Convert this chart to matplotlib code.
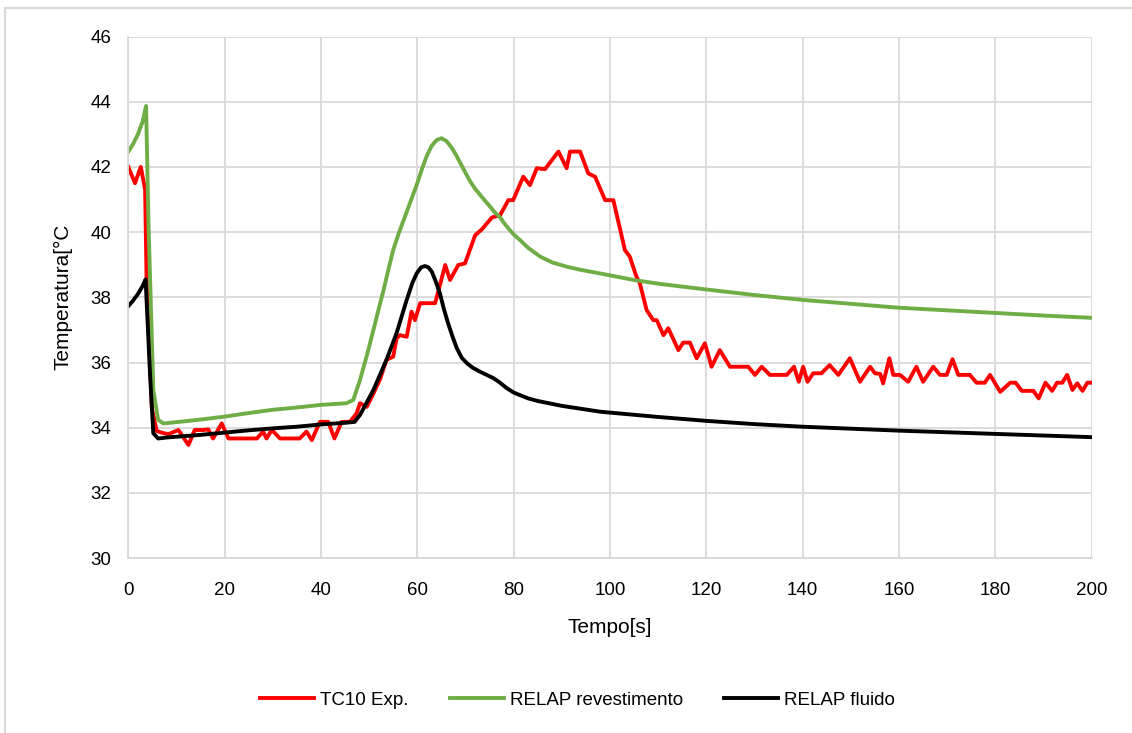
import matplotlib
matplotlib.use("Agg")
import matplotlib.pyplot as plt
from matplotlib.lines import Line2D

plt.rcParams['font.family'] = ['Liberation Sans', 'DejaVu Sans']

# TC10 experimental
t_exp = [0, 1.4, 2.6, 3.5, 3.8, 4.9, 5.9, 6.9, 8.3, 10.4, 12.5, 13.8, 15.6, 16.6, 17.6,
         19.4, 20.8, 26.7, 28.0, 28.7, 29.8, 31.5, 35.6, 37.0, 38.1, 39.8, 41.5, 42.8,
         44.3, 46.0, 47.4, 48.1, 49.5, 50.9, 52.3, 53.6, 55.0, 55.7, 56.4, 57.8, 58.8,
         59.5, 60.6, 63.7, 65.8, 66.8, 68.5, 69.9, 70.9, 72.0, 73.5, 75.5, 77.2, 78.9,
         79.9, 82.0, 83.4, 84.8, 86.5, 89.3, 91.0, 91.7, 93.8, 95.5, 96.9, 99.0, 100.7,
         103.1, 104.1, 105.5, 106.2, 107.6, 109.0, 109.7, 111.1, 112.1, 114.2, 115.2,
         116.6, 118.0, 119.7, 121.1, 122.8, 124.9, 128.7, 130.1, 131.5, 133.2, 136.7,
         138.2, 139.2, 140.1, 141.0, 142.2, 143.9, 145.6, 147.4, 149.8, 151.9, 154.0,
         155.0, 156.1, 156.7, 158.0, 158.8, 160.2, 161.9, 163.6, 165.0, 167.1, 168.5,
         169.9, 171.1, 172.3, 174.7, 176.1, 177.8, 178.9, 181.0, 183.1, 184.2, 185.5,
         187.9, 189.0, 190.4, 191.8, 192.8, 193.9, 194.9, 196.0, 197.0, 198.1, 199.1, 200]
temp_exp = [42.0, 41.5, 42.0, 41.3, 38.6, 34.6, 33.9, 33.85, 33.8, 33.93, 33.47, 33.93,
            33.93, 33.95, 33.67, 34.13, 33.67, 33.67, 33.88, 33.67, 33.93, 33.67, 33.67,
            33.88, 33.62, 34.18, 34.18, 33.67, 34.18, 34.18, 34.44, 34.75, 34.64, 35.05,
            35.5, 36.08, 36.18, 36.74, 36.84, 36.79, 37.56, 37.3, 37.82, 37.82, 38.99,
            38.53, 38.99, 39.04, 39.45, 39.9, 40.1, 40.45, 40.52, 40.98, 40.98, 41.7,
            41.44, 41.96, 41.93, 42.47, 41.96, 42.47, 42.47, 41.8, 41.7, 40.98, 40.98,
            39.45, 39.25, 38.63, 38.43, 37.61, 37.3, 37.3, 36.84, 37.05, 36.38, 36.61,
            36.61, 36.13, 36.59, 35.87, 36.38, 35.87, 35.87, 35.62, 35.87, 35.62, 35.62,
            35.87, 35.41, 35.87, 35.41, 35.67, 35.67, 35.92, 35.62, 36.13, 35.41, 35.87,
            35.67, 35.65, 35.36, 36.13, 35.62, 35.62, 35.41, 35.87, 35.41, 35.87, 35.62,
            35.62, 36.10, 35.62, 35.62, 35.38, 35.38, 35.62, 35.1, 35.38, 35.38, 35.13,
            35.13, 34.9, 35.38, 35.13, 35.38, 35.38, 35.62, 35.16, 35.36, 35.13, 35.38, 35.38]

# RELAP revestimento
t_rev = [0, 1, 2, 3, 3.7, 4.2, 5.2, 6.2, 7.3, 10, 15, 20, 25, 30, 35, 40, 45.3, 46.7,
         48.1, 49.5, 50.9, 52, 53.0, 54, 55.0, 56, 57, 58, 59, 60, 61, 62, 63, 64, 65,
         66, 67, 68, 69, 70, 71, 72, 73, 74, 75, 76, 77.2, 78, 79, 80, 81.3, 83, 85.5,
         88, 91, 94, 98, 105, 110.4, 120, 130, 140, 150, 160, 170, 180, 190, 200]
temp_rev = [42.47, 42.7, 43.0, 43.4, 43.87, 40.27, 35.16, 34.24, 34.13, 34.17, 34.25,
            34.34, 34.45, 34.55, 34.62, 34.70, 34.75, 34.85, 35.46, 36.2, 37.0, 37.65,
            38.22, 38.85, 39.45, 39.9, 40.3, 40.7, 41.1, 41.5, 41.95, 42.35, 42.65, 42.82,
            42.88, 42.8, 42.62, 42.38, 42.1, 41.82, 41.55, 41.33, 41.15, 40.97, 40.8,
            40.62, 40.45, 40.28, 40.1, 39.93, 39.76, 39.52, 39.25, 39.07, 38.94, 38.84,
            38.73, 38.53, 38.41, 38.24, 38.07, 37.92, 37.8, 37.68, 37.6, 37.52, 37.44, 37.37]

# RELAP fluido
t_flu = [0, 1, 2, 3, 3.6, 4.5, 5.2, 6.2, 8, 15, 20, 25, 30, 35, 40, 45, 47, 48.1, 50.9,
         53.6, 55.7, 57.8, 59.0, 59.9, 60.8, 61.6, 62.3, 63.0, 63.8, 64.7, 65.5, 66.4,
         67.3, 68.2, 69.2, 70.3, 71.5, 73, 75.8, 77, 78.6, 80, 81.3, 83, 85, 90, 98, 110,
         120, 130, 140, 160, 180, 200]
temp_flu = [37.73, 37.9, 38.1, 38.35, 38.55, 35.7, 33.83, 33.67, 33.7, 33.78, 33.85,
            33.92, 33.98, 34.03, 34.1, 34.15, 34.18, 34.39, 35.16, 36.08, 36.9, 37.92,
            38.45, 38.74, 38.92, 38.96, 38.92, 38.79, 38.5, 38.12, 37.65, 37.2, 36.8,
            36.44, 36.15, 35.98, 35.84, 35.72, 35.52, 35.4, 35.21, 35.08, 35.0, 34.9,
            34.82, 34.67, 34.49, 34.33, 34.21, 34.11, 34.03, 33.91, 33.81, 33.71]

fig = plt.figure(figsize=(11.32, 7.33), dpi=100)
ax = fig.add_axes([0.1133, 0.2386, 0.8511, 0.7116])

lw = 2.8
ax.plot(t_exp, temp_exp, color='#FF0000', lw=lw, solid_joinstyle='round', label='TC10 Exp.')
ax.plot(t_rev, temp_rev, color='#70AD47', lw=lw, solid_joinstyle='round', label='RELAP revestimento')
ax.plot(t_flu, temp_flu, color='#000000', lw=lw, solid_joinstyle='round', label='RELAP fluido')

ax.set_xlim(0, 200)
ax.set_ylim(30, 46)
ax.set_xticks(range(0, 201, 20))
ax.set_yticks(range(30, 47, 2))
ax.grid(True, color='#D9D9D9', lw=1.3)
ax.set_axisbelow(True)
for s in ['top', 'right']:
    ax.spines[s].set_visible(False)
for s in ['left', 'bottom']:
    ax.spines[s].set_color('#D9D9D9')
    ax.spines[s].set_linewidth(1.3)
ax.tick_params(length=0, labelsize=13.5, colors='black')
ax.tick_params(axis='x', pad=17)
ax.tick_params(axis='y', pad=12)

ax.set_xlabel('Tempo[s]', fontsize=15, labelpad=14)
ax.set_ylabel('Temperatura[°C', fontsize=15, labelpad=13)

fig.legend(loc='center', bbox_to_anchor=(0.51, 0.045), ncol=3, frameon=False,
           fontsize=13.5, handlelength=2.9, handletextpad=0.3, columnspacing=2.2)

# chart area border (Excel style)
fig.add_artist(Line2D([5 / 1132, 5 / 1132], [0, 1 - 8 / 733], color='#D9D9D9', lw=1.5))
fig.add_artist(Line2D([5 / 1132, 1], [1 - 8 / 733, 1 - 8 / 733], color='#D9D9D9', lw=1.5))

fig.savefig('out.png', dpi=100)
